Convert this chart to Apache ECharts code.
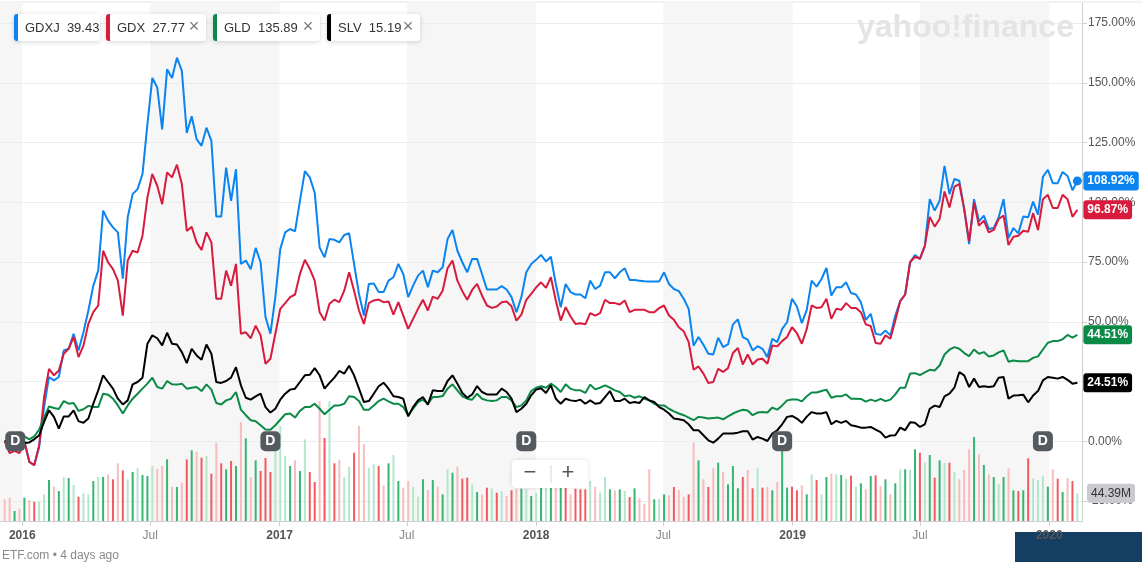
<!DOCTYPE html>
<html>
<head>
<meta charset="utf-8">
<title>GDXJ vs GDX, GLD, SLV</title>
<script src="https://cdn.jsdelivr.net/npm/echarts@6/dist/echarts.min.js"></script>
<style>
html, body { margin: 0; padding: 0; background: #fff; }
#chart { width: 1142px; height: 562px; }
</style>
</head>
<body>
<div id="chart"></div>
<script>
"use strict";
// DATA (weekly % change since first week)
var tickers = ['GDXJ', 'GDX', 'GLD', 'SLV'];
var lastPrices = [39.43, 27.77, 135.89, 15.19];
var firstWeek = '2015-12-07';

var gdxj = [0, -3, -4, -3, 0, -8.6, -10, -2.4, 14.3, 26.9,
	25.5, 26.9, 38, 38.7, 45, 38, 45.6, 54.7, 65, 71.4,
	96.5, 92.3, 89.5, 87.4, 68, 93.7, 103.4, 105.5, 111.8, 132.6,
	152, 148, 130.5, 155.6, 152, 160.5, 155, 129, 136, 126.4,
	123.6, 131.2, 125.7, 94, 94, 114.5, 100.6, 113.8, 74.2, 75.6,
	72, 80.9, 74.9, 52, 45, 60.3, 80.4, 87.4, 88.8, 87.8,
	100.6, 113, 110.4, 104, 81, 77, 84.6, 84.3, 83.2, 86.3,
	87, 74.2, 61.6, 52.6, 65.8, 66, 62.4, 62.4, 67.2, 68.6,
	74.2, 70, 60.3, 65.1, 69.3, 71.4, 64.4, 71.4, 70.7, 72.8,
	84.6, 88.4, 79.7, 74.9, 70.7, 76.3, 76.3, 70, 63.5, 63.5,
	63.5, 64.9, 63.5, 60.3, 54, 60.3, 70.7, 74.2, 75.9, 78,
	75.2, 77.2, 65.8, 56.1, 65.8, 62.4, 61.4, 61.4, 59.8, 67.2,
	63.7, 65.1, 70.7, 70.7, 68.2, 70.7, 72.4, 67.5, 67.5, 67.2,
	66.9, 66.8, 66.8, 66.8, 70.7, 65.8, 63.7, 62.8, 59.6, 55.4,
	40, 43.6, 40.4, 36.6, 36.3, 43.3, 39.4, 40.5, 48.9, 51,
	43.6, 42.5, 38, 39.8, 38.7, 35.2, 42.9, 41.5, 47, 49.8,
	59.6, 56.4, 49.4, 55, 67.2, 64.7, 67.9, 72.5, 61, 64.4,
	64.4, 66.5, 62, 61.4, 58.2, 50.8, 53.3, 45, 44.5, 46.3,
	44.3, 52.6, 58.6, 61.4, 74.9, 77.9, 76.3, 81.6, 101.3, 96.5,
	100.6, 115.2, 103.4, 109.7, 109, 97.1, 82.5, 101.3, 92, 94.4,
	88.8, 89.2, 93.7, 101.3, 85, 89.2, 87, 94, 93.7, 100.3,
	94.8, 110.6, 113.6, 108, 108, 112.7, 111, 105, 108.92];

var gdx = [0, -5, -4, -5, 0, -8.6, -10, -1.7, 18.5, 30.3,
	27.6, 29.6, 36.6, 38.7, 43.6, 35.2, 40, 49.1, 54, 56.8,
	79.7, 74.9, 72, 67.2, 52.6, 75.6, 79.7, 79, 86, 102,
	111.8, 106.9, 99.2, 112.5, 110.4, 115.7, 107.6, 88, 89.7, 83.2,
	80, 87.4, 83.2, 59.6, 59.6, 71.4, 65.1, 74.2, 45, 45.6,
	43.1, 48.4, 44.3, 32.4, 34.5, 45, 55.4, 57.8, 60.3, 61.4,
	70, 75.9, 72.1, 67.2, 54, 50.5, 57.5, 59.2, 58.2, 63,
	70.7, 63, 54.7, 49.1, 57.8, 58.9, 59.3, 58.2, 58.5, 53,
	58.2, 52.6, 47, 51.2, 55.4, 59.2, 54.7, 60.5, 59.6, 63,
	72.4, 75.6, 67.2, 62.8, 59.2, 63.3, 65.8, 61, 56.8, 55.8,
	56.4, 58.2, 58.5, 56.5, 50.5, 53, 59.2, 61.7, 64.4, 66.5,
	64.2, 68.6, 58.9, 50.5, 56.1, 52.2, 49.1, 49.4, 48.9, 53.6,
	52.6, 53.6, 59.2, 57.8, 57.8, 57.2, 58.9, 54, 55, 55,
	55, 54, 54, 55.7, 56.8, 52.6, 50.8, 47.7, 46, 41.5,
	29.9, 31.3, 28.3, 24.4, 24.8, 30.3, 29, 30.6, 36.9, 39,
	32.1, 36.3, 32.1, 34.2, 34.5, 32.4, 40.1, 39.7, 41.9, 43.6,
	47.7, 45.2, 40.8, 47, 56.8, 55.8, 56.1, 59.6, 51.2, 55.4,
	55, 57.8, 55.8, 55.8, 54, 48.9, 48.2, 41.1, 40.8, 44.3,
	42.9, 50.5, 58.6, 61.4, 74.9, 77.2, 76.3, 81.8, 93.9, 89.8,
	93, 104.5, 97.8, 106.5, 107.6, 97.1, 83.6, 99.9, 90.2, 92.3,
	87.4, 88.4, 93, 94.4, 82.1, 85.6, 86, 88.1, 87.7, 95.5,
	88.4, 101.3, 103.1, 97.6, 97.6, 103.1, 101.3, 93.9, 96.87];

var gld = [0, 0.4, 1, 1.5, 2, 0.8, 2, 4.9, 9.9, 14.6,
	13.9, 13.5, 16.8, 15.7, 16, 12.7, 13.4, 14.8, 14.3, 14.3,
	19.9, 19.5, 17.8, 15, 11.6, 15, 17.8, 19.9, 22, 24.1,
	26.6, 22.7, 22, 25.2, 23.8, 23.7, 24.1, 22, 22.4, 22.7,
	21, 23.8, 21.6, 16, 15.4, 17.1, 17.8, 20.6, 13.2, 10.9,
	8.8, 8.4, 6.7, 4.9, 4.8, 6.7, 9, 11.3, 11.6, 9.9,
	12.7, 14.3, 14.3, 15.7, 13.6, 11.3, 13.2, 15, 15, 15.7,
	18.8, 18.5, 16.8, 13.2, 13.2, 15, 16.8, 17.8, 16.7, 15.7,
	15.7, 14.3, 10.9, 13.6, 16.4, 17.4, 15.7, 18.5, 18.5, 18.9,
	22, 23.8, 21.3, 18.8, 17.8, 17.4, 19.9, 17.8, 17.1, 16.8,
	17.1, 18.5, 18.5, 17.1, 14.3, 15, 17.1, 21, 22.4, 23,
	22.4, 24.1, 22.7, 20.6, 23.8, 22, 21.3, 21.3, 20.2, 23.7,
	21.7, 22.4, 23.4, 22.4, 21.3, 20.6, 18.8, 19.2, 18.2, 18.8,
	17.8, 17.1, 15.7, 15, 15, 13.6, 12.5, 11.6, 10.9, 9.9,
	8.8, 10.2, 9.9, 9.5, 9.7, 9.9, 9.2, 10.4, 11.6, 12.5,
	13.2, 12.9, 10.9, 12, 12.2, 12, 14.1, 13.2, 15, 17.1,
	17.5, 17.5, 16.7, 18.8, 20.4, 20.4, 21, 21.6, 18.2, 18.8,
	18.8, 19.6, 17.8, 17.8, 17.7, 16.6, 17.4, 16.8, 17.7, 16.8,
	17.4, 19.6, 22.4, 22.4, 28.3, 28.5, 27.7, 28.8, 29.9, 29.6,
	31.7, 36.3, 38.3, 39.4, 38.7, 36.9, 35.6, 38.4, 36.6, 37.3,
	35.5, 35.9, 37.2, 38, 33.3, 33.8, 33.5, 33.5, 33.5, 34.9,
	35.5, 38.4, 41.2, 41.9, 41.9, 42.7, 44.5, 43.4, 44.51];

var slv = [0, 0.4, 0, -0.7, -0.7, -0.5, 0.8, 2.5, 8.1, 12.9,
	10.2, 5.3, 10.4, 10.4, 12.9, 8.4, 7.7, 9.5, 15.7, 21.3,
	27.6, 24.8, 22, 17.8, 15.4, 17.1, 23.8, 24.8, 26.6, 40.8,
	44.3, 43.1, 40.1, 45.4, 40.8, 40.5, 37.3, 32.7, 38.7, 35.9,
	34.1, 40.5, 36.6, 24.8, 24.4, 25.2, 26.6, 31, 23.4, 18.2,
	17.4, 18.8, 19.9, 14.3, 12, 13.6, 17.4, 19.9, 21.6, 22,
	24.8, 27.6, 27.8, 30.6, 27.6, 22, 24.4, 26.6, 29.4, 28.3,
	31.6, 27.6, 22, 16.4, 16.8, 19.9, 23, 24.5, 22, 18.8,
	18.5, 17.8, 10.4, 14.3, 17.1, 18.5, 15.3, 21.3, 21, 21,
	25.2, 27.6, 24.1, 20.2, 18.2, 19.6, 23.1, 20.6, 19.6, 19.6,
	19.6, 22, 20.6, 17.8, 12.2, 13.6, 15.7, 19.2, 21.6, 22.2,
	20.2, 23.4, 17.8, 15.7, 17.8, 17.1, 16.8, 17.4, 15.7, 17.1,
	15.7, 16, 18.5, 21, 16.8, 16.8, 17.8, 16, 16.4, 16,
	18.5, 17.1, 16.4, 14.3, 13.2, 11.6, 9.5, 9.2, 8.8, 7.1,
	4.6, 4.6, 2.5, 0.4, -0.6, 1.1, 3.2, 3.2, 3.2, 3.6,
	4.2, 4.2, 0.7, 1.8, 1.1, 0.1, 3.2, 4.6, 7.1, 10.2,
	10.6, 9.5, 7.7, 10.3, 12.2, 11.6, 11.6, 12.2, 7.1, 8.5,
	7.7, 8.5, 6.7, 6.3, 5.7, 5.7, 6, 4.9, 3.8, 1.5,
	2.4, 2.5, 5.7, 4.6, 7.9, 7.7, 6, 7.1, 13.6, 14.9,
	14.3, 18.8, 19.9, 22.4, 28.9, 27.6, 22.7, 26.2, 22.7, 23,
	22.7, 23, 26.6, 26.9, 17.8, 19.1, 19.2, 19.5, 16.3, 19.1,
	21, 25.5, 26.9, 26.6, 26.2, 26.9, 25.7, 24.1, 24.51];

// GDXJ weekly volume, millions
var volume = [34.7, 37.3, 16, 19.7, 37.3, 33.6, 30.9, 30.9, 42.7, 65.6,
	54.9, 48, 70.4, 68.8, 57.6, 38.9, 44.3, 42.7, 64, 70.4,
	70.4, 74.7, 66.7, 92.3, 81.1, 66.7, 78.4, 84.3, 73.6, 72,
	88, 83.2, 88, 98.7, 54.9, 54.4, 61.3, 98.7, 113.1, 110.9,
	101.3, 104, 75.7, 125.3, 92.3, 82.7, 96, 88, 158.4, 132.3,
	70.4, 97.1, 80, 100.8, 78.4, 120, 152, 104, 88, 97.1,
	80, 130.7, 78.4, 62.4, 192, 132.8, 192, 92.3, 97.6, 70.4,
	86.4, 109.3, 152, 122.7, 85.3, 90.7, 88, 57.1, 92.3, 105.6,
	64, 53.3, 64, 54.9, 38.9, 66.7, 49.6, 65.6, 54.9, 42.7,
	82.7, 77.3, 86.9, 67.7, 69.3, 58.7, 46.4, 42.7, 53.3, 52.3,
	45.3, 48, 40, 49.1, 51.7, 51.7, 50.7, 40, 45.3, 64,
	60.8, 67.2, 57.6, 64, 60.8, 42.7, 51.7, 50.7, 50.7, 64,
	54.9, 45.3, 70.4, 50.7, 49.1, 50.7, 48, 38.4, 52.3, 36.3,
	27.7, 82.7, 34.7, 35.7, 42.7, 41.1, 54.4, 49.6, 38.4, 42.7,
	125.3, 97.1, 66.7, 54.4, 84.3, 93.3, 78.4, 58.7, 88, 52.3,
	70.4, 81.6, 52.3, 84.3, 53.3, 54.4, 49.1, 62.4, 128, 53.3,
	54.9, 49.1, 57.1, 42.7, 74.7, 65.6, 42.7, 70.4, 75.7, 74.7,
	73.6, 67.7, 72.5, 54.9, 60.3, 50.7, 72, 73.1, 56, 66.7,
	42.7, 60.3, 82.7, 82.7, 81.6, 114.7, 109.3, 93.3, 105.6, 69.3,
	97.1, 93.3, 93.3, 78.4, 66.7, 81.6, 114.7, 134.4, 106.7, 89.6,
	74.7, 70.4, 58.7, 70.4, 84.3, 49.1, 48, 49.1, 100.3, 68.3,
	65.6, 72, 54.9, 82.7, 67.7, 46.4, 68.3, 64, 44.39];

// G/g = up week (strong/light), R/r = down week (strong/light)
var volTone = 'rrGrGrRggG' + 'rGgGgRggGg' + 'GrRrRgGgGG' + 'grrGrGrRGr' + 'RgRrRGRGrG' +
	'rGRRRgggGr' + 'GgRRrRgRrg' + 'gRrrggRrGg' + 'GrrggGrGrG' + 'gGrRRgGrRg' +
	'RgrRrGgGgG' + 'gGrGRrRRRg' + 'rggGrGgRGr' + 'rrGgGrRrrR' + 'rGrRrGrGGG' +
	'RrRgRrGrGG' + 'RRrGgRgGrg' + 'GgRgGrGRrG' + 'rGgGgGRgGR' + 'GgRgrrrGrG' +
	'rGgGrGRGRg' + 'ggGrRGrRg';

var tickDates = ['2016-01-01', '2016-07-01', '2017-01-01', '2017-07-01', '2018-01-01',
	'2018-07-01', '2019-01-01', '2019-07-01', '2020-01-01'];
var tickLabels = ['2016', 'Jul', '2017', 'Jul', '2018', 'Jul', '2019', 'Jul', '2020'];
var shadeFrom = ['2015-07-01', '2016-07-01', '2017-07-01', '2018-07-01', '2019-07-01'];
var shadeTo = ['2016-01-01', '2017-01-01', '2018-01-01', '2019-01-01', '2020-01-01'];
var dividendDates = ['2015-12-22', '2016-12-19', '2017-12-18', '2018-12-17', '2019-12-23'];

// HELPERS
function day(s) {
	var p = s.split('-');
	return new Date(+p[0], +p[1] - 1, +p[2]).getTime();
}
var fw = firstWeek.split('-');
var weeks = [];
for (var i = 0; i < gdxj.length; i++) {
	weeks.push(new Date(+fw[0], +fw[1] - 1, +fw[2] + 7 * i).getTime());
}
var last = weeks.length - 1;
var xMin = new Date(2015, 10, 30, 7).getTime();
var xMax = new Date(2020, 1, 16, 14).getTime();
var colors = ['#0a84f0', '#d81b3c', '#0b8a47', '#000000'];
var toneColor = { G: '#36b571', g: '#b3e7cb', R: '#f15b5f', r: '#f9bcbc' };
var tickValues = tickDates.map(day);
var tickText = {};
tickValues.forEach(function(v, i) { tickText[v] = tickLabels[i]; });
var font = "'Liberation Sans', Arial, sans-serif";

function lineSeries(idx, values) {
	return {
		name: tickers[idx],
		type: 'line',
		xAxisIndex: 1,
		yAxisIndex: 1,
		data: weeks.map(function(t, i) { return [t, values[i]]; }),
		showSymbol: false,
		lineStyle: { width: 2, color: colors[idx] },
		itemStyle: { color: colors[idx] },
		endLabel: {
			show: true,
			distance: 6,
			formatter: function(p) { return p.value[1].toFixed(2) + '%'; },
			color: '#fff',
			fontWeight: 'bold',
			fontSize: 12,
			fontFamily: font,
			backgroundColor: colors[idx],
			padding: [4, 4, 3, 4],
			borderRadius: 3
		},
		z: 3
	};
}

// LEGEND CHIPS
var chipX = [14, 106, 213, 327];
var chipW = [86, 100, 107, 93];
var graphics = [];
tickers.forEach(function(t, i) {
	graphics.push({
		type: 'rect', z: 100,
		shape: { x: chipX[i], y: 14, width: chipW[i], height: 27, r: 3 },
		style: { fill: '#fff', shadowBlur: 5, shadowColor: 'rgba(0,0,0,0.16)', shadowOffsetY: 1 }
	});
	graphics.push({
		type: 'rect', z: 101,
		shape: { x: chipX[i], y: 14, width: 4, height: 27, r: [3, 0, 0, 3] },
		style: { fill: colors[i] }
	});
	graphics.push({
		type: 'text', z: 101, x: chipX[i] + 11, y: 28,
		style: { text: t + '  ' + lastPrices[i].toFixed(2), fill: '#333', font: '13px ' + font, verticalAlign: 'middle' }
	});
	if (i > 0) {
		graphics.push({
			type: 'text', z: 101, x: chipX[i] + chipW[i] - 12, y: 27,
			style: { text: '\u00d7', fill: '#777', font: '18px ' + font, align: 'center', verticalAlign: 'middle' }
		});
	}
});
// WATERMARK, ZOOM CONTROL, FOOTER
graphics.push(
	{ type: 'line', z: 1, shape: { x1: 0, y1: 2, x2: 1142, y2: 2 }, style: { stroke: '#e4e4ee', lineWidth: 1 } },
	{ type: 'text', z: 1, x: 857, y: 28, style: { text: 'yahoo!finance', fill: '#e4e4e4', font: 'bold 32px ' + font, verticalAlign: 'middle' } },
	{ type: 'rect', z: 100, shape: { x: 512, y: 460, width: 76, height: 28, r: 4 }, style: { fill: '#fff', shadowBlur: 5, shadowColor: 'rgba(0,0,0,0.12)' } },
	{ type: 'text', z: 101, x: 530, y: 473, style: { text: '\u2212', fill: '#555', font: '22px ' + font, align: 'center', verticalAlign: 'middle' } },
	{ type: 'line', z: 101, shape: { x1: 551, y1: 465, x2: 551, y2: 483 }, style: { stroke: '#d6d6d6', lineWidth: 1 } },
	{ type: 'text', z: 101, x: 568, y: 473, style: { text: '+', fill: '#555', font: '22px ' + font, align: 'center', verticalAlign: 'middle' } },
	{ type: 'text', z: 1, x: 2, y: 556, style: { text: 'ETF.com \u2022 4 days ago', fill: '#8a8a8a', font: '12px ' + font, verticalAlign: 'middle' } },
	{ type: 'rect', z: -1, shape: { x: 1015, y: 532, width: 127, height: 30 }, style: { fill: '#143f63' } }
);

// CHART
var chart = echarts.init(document.getElementById('chart'));
var option = {
	animation: false,
	textStyle: { fontFamily: font },
	grid: [
		{ left: 0, right: 60, top: 3, bottom: 41 },
		{ left: 0, right: 60, top: 23, bottom: 61 }
	],
	xAxis: [{
		type: 'value', gridIndex: 0, min: xMin, max: xMax,
		axisLine: { lineStyle: { color: '#cfcfcf' } },
		axisTick: { show: true, customValues: tickValues, length: 5, lineStyle: { color: '#cfcfcf' } },
		axisLabel: {
			customValues: tickValues,
			margin: 9,
			formatter: function(v) {
				var s = tickText[v] || '';
				return s === 'Jul' ? '{m|' + s + '}' : '{y|' + s + '}';
			},
			rich: {
				y: { color: '#555', fontSize: 12, fontWeight: 'bold', fontFamily: font },
				m: { color: '#888', fontSize: 12, fontFamily: font }
			}
		},
		splitLine: { show: false }
	}, {
		type: 'value', gridIndex: 1, min: xMin, max: xMax, show: false
	}],
	yAxis: [{
		type: 'value', gridIndex: 0, min: 0, max: 829, position: 'right',
		axisLine: { show: true, lineStyle: { color: '#cfcfcf' } },
		axisTick: { show: false }, axisLabel: { show: false }, splitLine: { show: false }
	}, {
		type: 'value', gridIndex: 1, min: -25, max: 175, interval: 25, position: 'right',
		axisLine: { show: false },
		axisTick: { show: true, length: 5, lineStyle: { color: '#cfcfcf' } },
		axisLabel: {
			color: '#555', fontSize: 12, margin: 6,
			formatter: function(v) { return v.toFixed(2) + '%'; }
		},
		splitLine: { lineStyle: { color: '#ececec' } }
	}],
	series: [{
		name: 'Volume',
		type: 'bar',
		xAxisIndex: 0,
		yAxisIndex: 0,
		barWidth: 2,
		data: weeks.map(function(t, i) {
			return { value: [t, volume[i]], itemStyle: { color: toneColor[volTone.charAt(i)] } };
		}),
		markArea: {
			silent: true,
			z: -1,
			itemStyle: { color: '#f6f6f6' },
			data: shadeFrom.map(function(s, i) {
				return [{ xAxis: Math.max(day(s), xMin) }, { xAxis: day(shadeTo[i]) }];
			})
		},
		markLine: {
			silent: true,
			symbol: ['none', 'none'],
			lineStyle: { color: 'rgba(0,0,0,0)', width: 1, type: 'solid' },
			label: {
				show: true,
				position: 'end', distance: 5,
				formatter: volume[last].toFixed(2) + 'M',
				color: '#333', fontSize: 12, backgroundColor: '#c8cace',
				padding: [4, 4, 3, 4], borderRadius: 3
			},
			data: [{ yAxis: volume[last] }]
		},
		z: 2
	},
	lineSeries(0, gdxj),
	lineSeries(1, gdx),
	lineSeries(2, gld),
	lineSeries(3, slv),
	{
		type: 'scatter', xAxisIndex: 1, yAxisIndex: 1, z: 4,
		symbolSize: 9, itemStyle: { color: colors[0], opacity: 1 },
		data: [[weeks[last], gdxj[last]]]
	}, {
		type: 'scatter', xAxisIndex: 1, yAxisIndex: 1, z: 5,
		symbol: 'roundRect', symbolSize: 20,
		itemStyle: { color: '#555a61', opacity: 1 },
		label: { show: true, position: 'inside', formatter: 'D', color: '#fff', fontSize: 14, fontWeight: 'bold' },
		data: dividendDates.map(function(d) { return [day(d), 0]; })
	}],
	graphic: graphics
};
chart.setOption(option);
</script>
</body>
</html>
